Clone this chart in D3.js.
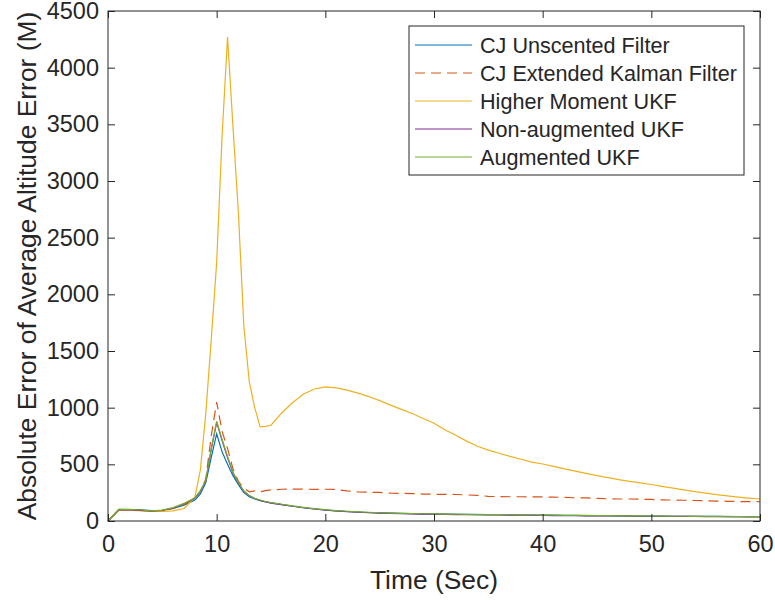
<!DOCTYPE html>
<html>
<head>
<meta charset="utf-8">
<script src="https://cdn.jsdelivr.net/npm/d3@7"></script>
<style>
  body { margin: 0; background: #fff; }
  svg text { font-family: "Liberation Sans", Arial, sans-serif; fill: #262626; }
</style>
</head>
<body>
<div id="chart"></div>
<script>
// time samples (sec), finer around the peak
var time = [0,1,2,3,4,5,6,7,8,
  8.5,9,9.5,10,10.5,11,11.5,12,12.5,13,13.5,14,14.5,15,
  16,17,18,19,20,21,22,23,24,25,26,27,28,29,30,31,32,33,34,35,36,37,38,
  39,40,41,42,43,44,45,46,47,48,49,50,51,52,53,54,55,56,57,58,59,60];

var cjUnscented = [0,100,100,98,92,95,110,140,185,
  240,340,560,770,610,500,400,320,250,215,195,180,170,160,
  145,130,117,106,97,90,84,79,75,71,69,67,65,63,61,60,59,58,57,56,
  55,54,53,53,52,51,50,49,48,48,47,46,45,44,44,43,42,41,41,40,40,39,39,38,38,38];

var cjEkf = [0,100,98,95,88,92,110,145,200,
  265,370,750,1050,790,640,460,350,290,258,265,258,268,275,
  280,282,281,279,280,278,266,257,254,252,246,244,242,238,236,235,234,230,
  226,218,215,214,214,213,212,211,208,205,204,200,196,194,194,192,190,187,
  185,183,181,179,176,174,172,171,170];

var higherMoment = [0,95,95,90,85,85,90,110,210,
  450,950,1600,2280,3400,4270,3480,2720,1720,1230,1000,830,835,845,
  955,1045,1120,1165,1183,1175,1155,1128,1098,1062,1022,985,948,905,862,
  805,757,705,660,625,598,570,545,520,503,482,460,440,420,400,383,365,350,
  336,322,305,290,274,260,246,232,221,210,201,194];

var nonAugmented = [0,98,98,94,88,94,115,152,200,
  262,355,630,870,710,560,425,335,262,222,198,182,168,158,
  145,130,117,106,96,88,82,77,73,70,67,65,63,61,60,58,57,56,55,54,
  53,52,51,50,49,48,47,47,46,45,44,44,43,42,42,41,41,40,40,39,39,38,38,37,37];

var augmented = [0,104,102,97,90,96,118,155,205,
  265,360,640,880,720,570,430,340,265,225,200,185,172,162,
  148,133,120,109,100,92,86,81,77,73,70,68,66,64,62,61,60,59,58,57,
  56,55,54,53,52,51,50,49,49,48,47,46,45,45,44,43,42,42,41,41,40,40,39,39,38];

var seriesNames = ['CJ Unscented Filter', 'CJ Extended Kalman Filter', 'Higher Moment UKF',
  'Non-augmented UKF', 'Augmented UKF'];
var seriesValues = [cjUnscented, cjEkf, higherMoment, nonAugmented, augmented];
var seriesColors = ['#0072BD', '#D95319', '#EDB120', '#7E2F8E', '#77AC30'];
var seriesDash = [null, '10,6', null, null, null];

var xTicks = [0,10,20,30,40,50,60];
var yTicks = [0,500,1000,1500,2000,2500,3000,3500,4000,4500];

function drawChart(){
  var pLeft = 108, pRight = 760, pTop = 11, pBottom = 521;

  var svg = d3.select('#chart').append('svg').attr('width', 775).attr('height', 600);

  var x = d3.scaleLinear().domain([0, 60]).range([pLeft, pRight]);
  var y = d3.scaleLinear().domain([0, 4500]).range([pBottom, pTop]);

  var line = d3.line()
    .x(function(d){ return x(d.t); })
    .y(function(d){ return y(d.v); });

  var plot = svg.append('g');
  seriesValues.forEach(function(vals, i){
    var pts = time.map(function(t, j){ return {t: t, v: vals[j]}; });
    plot.append('path').datum(pts)
      .attr('d', line)
      .attr('fill', 'none')
      .attr('stroke', seriesColors[i])
      .attr('stroke-width', 1.2)
      .attr('stroke-dasharray', seriesDash[i]);
  });

  function styleAxis(g, labels){
    g.select('.domain').remove();
    g.selectAll('.tick line').attr('stroke', '#262626').attr('stroke-width', 1);
    if (!labels) g.selectAll('.tick text').remove();
    else g.selectAll('.tick text').attr('font-size', 23.5).attr('fill', '#262626');
  }

  var fmt = d3.format('d');
  svg.append('g').attr('transform', 'translate(0,' + pBottom + ')')
    .call(d3.axisBottom(x).tickValues(xTicks).tickFormat(fmt).tickSizeInner(-7).tickSizeOuter(0).tickPadding(14))
    .call(styleAxis, true);
  svg.append('g').attr('transform', 'translate(0,' + pTop + ')')
    .call(d3.axisTop(x).tickValues(xTicks).tickSizeInner(-7).tickSizeOuter(0))
    .call(styleAxis, false);
  svg.append('g').attr('transform', 'translate(' + pLeft + ',0)')
    .call(d3.axisLeft(y).tickValues(yTicks).tickFormat(fmt).tickSizeInner(-7).tickSizeOuter(0).tickPadding(9))
    .call(styleAxis, true);
  svg.append('g').attr('transform', 'translate(' + pRight + ',0)')
    .call(d3.axisRight(y).tickValues(yTicks).tickSizeInner(-7).tickSizeOuter(0))
    .call(styleAxis, false);

  svg.append('rect').attr('x', pLeft).attr('y', pTop)
    .attr('width', pRight - pLeft).attr('height', pBottom - pTop)
    .attr('fill', 'none').attr('stroke', '#262626').attr('stroke-width', 1);

  // axis titles
  svg.append('text').attr('x', (pLeft + pRight) / 2).attr('y', 589)
    .attr('text-anchor', 'middle').attr('font-size', 26.4).text('Time (Sec)');
  svg.append('text')
    .attr('transform', 'translate(36,' + (pTop + pBottom) / 2 + ') rotate(-90)')
    .attr('text-anchor', 'middle').attr('font-size', 26.4)
    .text('Absolute Error of Average Altitude Error (M)');

  // legend
  var lg = svg.append('g').attr('transform', 'translate(409,26)');
  lg.append('rect').attr('width', 335).attr('height', 149)
    .attr('fill', '#fff').attr('stroke', '#262626').attr('stroke-width', 1);
  seriesNames.forEach(function(name, i){
    var cy = 19 + i * 28;
    lg.append('line').attr('x1', 6).attr('x2', 63).attr('y1', cy).attr('y2', cy)
      .attr('stroke', seriesColors[i]).attr('stroke-width', 1.2)
      .attr('stroke-dasharray', seriesDash[i]);
    lg.append('text').attr('x', 71).attr('y', cy).attr('dy', '0.35em')
      .attr('font-size', 21.6).text(name);
  });
}

drawChart();
</script>
</body>
</html>
